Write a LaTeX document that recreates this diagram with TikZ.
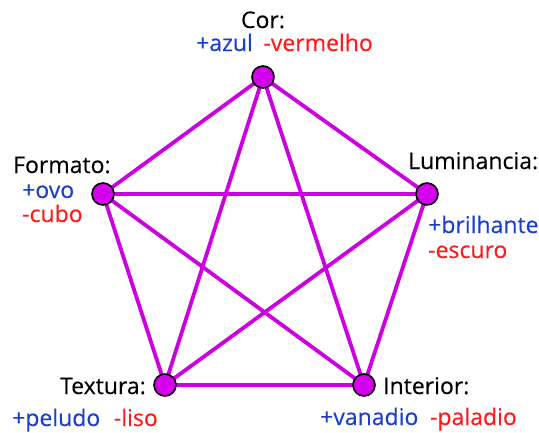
\documentclass[tikz,border=0pt]{standalone}
\usepackage{fontspec}
\setmainfont{Open Sans}[FakeBold=0.25]
\definecolor{edgec}{HTML}{CC00E0}
\definecolor{nodec}{HTML}{D400EE}
\definecolor{plusc}{HTML}{1A3FCC}
\definecolor{minusc}{HTML}{FF1A1A}
\begin{document}
\begin{tikzpicture}[x=1pt,y=-1pt,
  vert/.style={circle,draw=black,line width=1.6pt,fill=nodec,minimum size=22pt,inner sep=0pt},
  edge/.style={draw=edgec,line width=3.8pt},
  lbl/.style={font=\fontsize{23}{26}\selectfont,inner sep=0pt},
  pl/.style={lbl,text=plusc},
  mi/.style={lbl,text=minusc}]
\useasboundingbox (0,0) rectangle (539,432);
\coordinate (pc) at (263,77);
\coordinate (pl) at (427,194);
\coordinate (pf) at (103,194);
\coordinate (pt) at (165,385);
\coordinate (pi) at (364,385);
\draw[edge] (pc)--(pt) (pc)--(pi) (pc)--(pf) (pc)--(pl)
  (pf)--(pl) (pf)--(pt) (pf)--(pi) (pl)--(pt) (pl)--(pi) (pt)--(pi);
\node[vert] (cor) at (pc) {};
\node[vert] (lum) at (pl) {};
\node[vert] (form) at (pf) {};
\node[vert] (tex) at (pt) {};
\node[vert] (int) at (pi) {};
\node[lbl,anchor=base] (tcor) at (263,28) {Cor:};
\node[pl,anchor=base west] (azul) at (196,51) {+azul};
\node[mi,anchor=base east] (verm) at (373,51) {-vermelho};
\node[lbl,anchor=base west] (tform) at (13,173) {Formato:};
\node[pl,anchor=base west] (ovo) at (22,198) {+ovo};
\node[mi,anchor=base west] (cubo) at (22,222) {-cubo};
\node[lbl,anchor=base west] (tlum) at (408,169) {Luminancia:};
\node[pl,anchor=base west] (bril) at (428,233) {+brilhante};
\node[mi,anchor=base west] (esc) at (428,258) {-escuro};
\node[lbl,anchor=base east] (ttex) at (146,394) {Textura:};
\node[lbl,anchor=base west] (tint) at (383,394) {Interior:};
\node[pl,anchor=base west] (pel) at (12,426) {+peludo};
\node[mi,anchor=base east] (liso) at (158,426) {-liso};
\node[pl,anchor=base west] (van) at (320,425) {+vanadio};
\node[mi,anchor=base east] (pal) at (517,425) {-paladio};
\end{tikzpicture}
\end{document}
